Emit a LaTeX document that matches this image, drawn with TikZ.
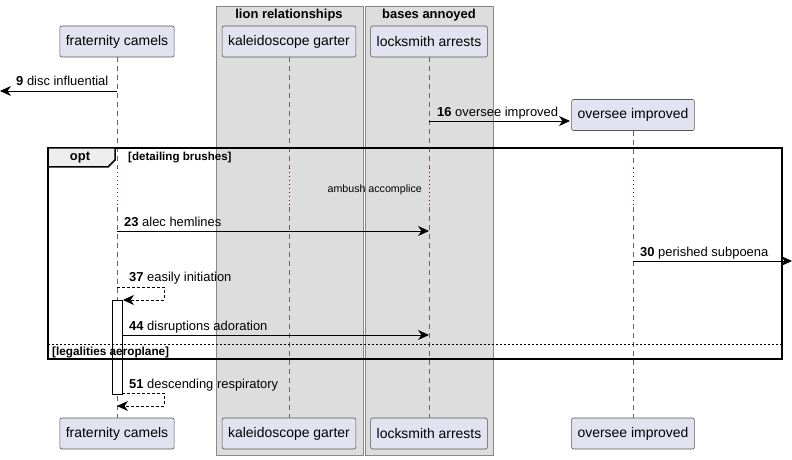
\documentclass[tikz,border=0pt]{standalone}
\usepackage{fontspec}
\setmainfont{Liberation Sans}
\usetikzlibrary{arrows.meta}
\definecolor{partfill}{HTML}{E2E2F0}
\definecolor{partdraw}{HTML}{555555}
\definecolor{boxfill}{HTML}{DDDDDD}
\definecolor{boxdraw}{HTML}{888888}
\definecolor{lifegray}{HTML}{666666}
\definecolor{delayred}{HTML}{8B0033}
\definecolor{tabfill}{HTML}{EEEEEE}
\tikzset{
  part/.style={draw=partdraw, fill=partfill, rounded corners=2bp, minimum height=31bp, inner xsep=6bp, font=\fontsize{14}{16}\selectfont, line width=0.6bp},
  grpbox/.style={draw=boxdraw, fill=boxfill, line width=0.8bp},
  grptitle/.style={font=\bfseries\fontsize{13}{15}\selectfont, inner sep=0pt},
  life/.style={draw=lifegray, dash pattern=on 5bp off 4bp, line width=0.6bp},
  delay/.style={draw=delayred, dash pattern=on 1bp off 3bp, line width=0.8bp},
  msg/.style={draw=black, line width=0.8bp, -{Stealth[length=11bp,width=10bp,inset=3.5bp]}},
  ret/.style={draw=black, line width=0.8bp, dash pattern=on 3bp off 2bp, -{Stealth[length=11bp,width=10bp,inset=3.5bp]}},
  mlabel/.style={anchor=base west, inner sep=0pt, font=\fontsize{13}{15}\selectfont},
  frm/.style={draw=black, line width=1.5bp},
}
\newcommand{\num}[1]{\textbf{#1}}
\begin{document}
\begin{tikzpicture}[x=1bp,y=-1bp]
\useasboundingbox (0,0) rectangle (792,460);
% group boxes
\draw[grpbox] (216,6) rectangle (363,455);
\draw[grpbox] (365,6) rectangle (493,455);
\node[grptitle] (t1) at (289,15) {lion relationships};
\node[grptitle] (t2) at (429,15) {bases annoyed};
% participants top
\node[part] (fc) at (117,41.5) {fraternity camels};
\node[part] (kg) at (289,41.5) {kaleidoscope garter};
\node[part] (la) at (429,41.5) {locksmith arrests};
\node[part] (oi) at (633,115) {oversee improved};
% participants bottom
\node[part] (fcb) at (117,433.5) {fraternity camels};
\node[part] (kgb) at (289,433.5) {kaleidoscope garter};
\node[part] (lab) at (429,433.5) {locksmith arrests};
\node[part] (oib) at (633,433.5) {oversee improved};
% delay coordinates
\coordinate (fcd1) at (117,168); \coordinate (fcd2) at (117,207);
\coordinate (kgd1) at (289,168); \coordinate (kgd2) at (289,207);
\coordinate (lad1) at (429,168); \coordinate (lad2) at (429,207);
\coordinate (oid1) at (633,168); \coordinate (oid2) at (633,207);
% lifelines
\draw[life] (fc.south) -- (fcd1); \draw[delay] (fcd1) -- (fcd2); \draw[life] (fcd2) -- (fcb.north);
\draw[life] (kg.south) -- (kgd1); \draw[delay] (kgd1) -- (kgd2); \draw[life] (kgd2) -- (kgb.north);
\draw[life] (la.south) -- (lad1); \draw[delay] (lad1) -- (lad2); \draw[life] (lad2) -- (lab.north);
\draw[life] (oi.south) -- (oid1); \draw[delay] (oid1) -- (oid2); \draw[life] (oid2) -- (oib.north);
% activation
\node[draw=black, fill=white, line width=0.8bp, minimum width=10bp, minimum height=94bp, inner sep=0pt] (act) at (117,347) {};
% frame
\draw[frm] (48,148) rectangle (782,359);
\draw[frm, fill=tabfill] (48,148) -- (115,148) -- (115,160) -- (108,167) -- (48,167) -- cycle;
\node[font=\bfseries\fontsize{13}{15}\selectfont, inner sep=0pt] (opt) at (80,158) {opt};
\node[anchor=base west, inner sep=0pt, font=\bfseries\fontsize{11.6}{13}\selectfont] (c1) at (128,161) {[detailing brushes]};
\draw[black, line width=0.6bp, dash pattern=on 2bp off 2bp] (48,344) -- (782,344);
\node[anchor=base west, inner sep=0pt, font=\bfseries\fontsize{11.8}{13}\selectfont] (c2) at (52,356) {[legalities aeroplane]};
% delay text
\node[anchor=base east, inner sep=0pt, font=\fontsize{10.7}{12}\selectfont] (amb) at (422,193) {ambush accomplice};
% message coordinates
\coordinate (m9a) at (117,91); \coordinate (m9b) at (0,91);
\coordinate (m16a) at (429,121); \coordinate (m16b) at (570,121);
\coordinate (m23a) at (117,231); \coordinate (m23b) at (429,231);
\coordinate (m30a) at (633,261); \coordinate (m30b) at (792,261);
\coordinate (m37a) at (117,287); \coordinate (m37b) at (164,287); \coordinate (m37c) at (164,300); \coordinate (m37d) at (123,300);
\coordinate (m44a) at (122,335); \coordinate (m44b) at (429,335);
\coordinate (m51a) at (122,393); \coordinate (m51b) at (164,393); \coordinate (m51c) at (164,406); \coordinate (m51d) at (117,406);
% messages
\draw[msg] (m9a) -- (m9b);
\node[mlabel] (l9) at (16,86) {\num{9} disc influential};
\draw[msg] (m16a) -- (m16b);
\node[mlabel] (l16) at (437,117) {\num{16} oversee improved};
\draw[msg] (m23a) -- (m23b);
\node[mlabel] (l23) at (124,227) {\num{23} alec hemlines};
\draw[msg] (m30a) -- (m30b);
\node[mlabel] (l30) at (640,257) {\num{30} perished subpoena};
\draw[ret] (m37a) -- (m37b) -- (m37c) -- (m37d);
\node[mlabel] (l37) at (129,282) {\num{37} easily initiation};
\draw[msg] (m44a) -- (m44b);
\node[mlabel] (l44) at (129,331) {\num{44} disruptions adoration};
\draw[ret] (m51a) -- (m51b) -- (m51c) -- (m51d);
\node[mlabel] (l51) at (129,388) {\num{51} descending respiratory};
\end{tikzpicture}
\end{document}
